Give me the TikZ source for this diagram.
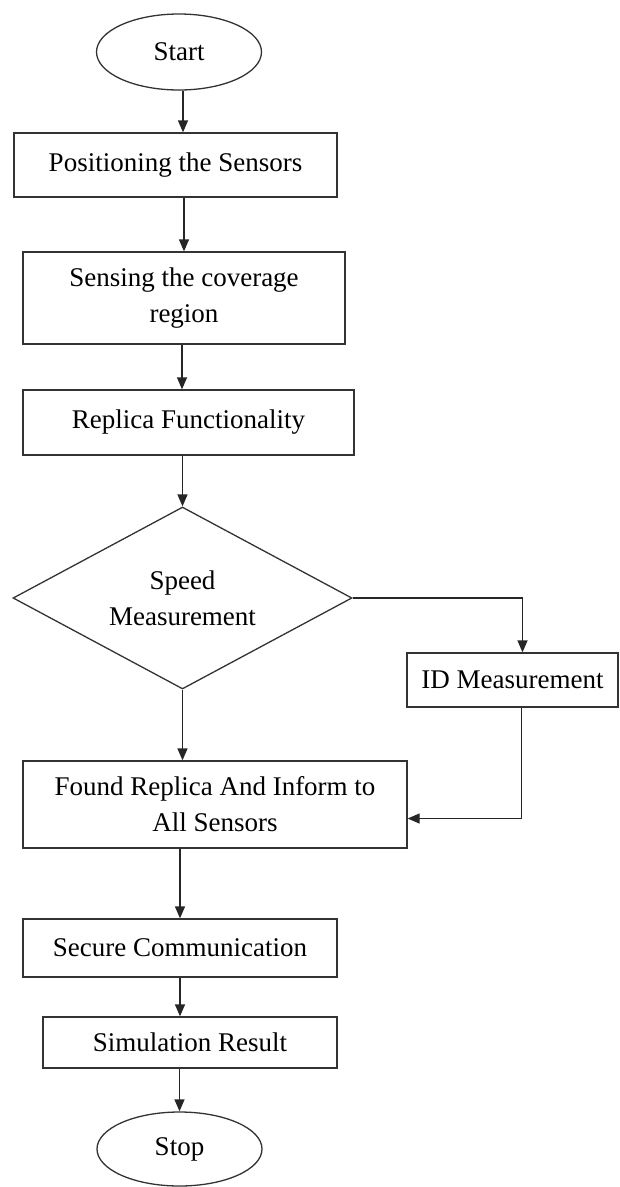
\documentclass[tikz,border=0pt]{standalone}
\usepackage{fontspec}
\setmainfont{Liberation Serif}
\usepackage{tikz}
\usetikzlibrary{arrows.meta,positioning,calc,shapes.geometric}

\begin{document}
\begin{tikzpicture}[x=1pt, y=-1pt, font=\fontsize{27}{36}\selectfont,
  line width=1.3pt,
  box/.style={draw=black!80, rectangle, inner sep=0pt, align=center},
  term/.style={draw=black!80, ellipse, inner sep=0pt, minimum width=165, minimum height=76},
  decide/.style={draw=black!80, diamond, shape aspect=1.86, inner sep=0pt, align=center, minimum width=339, minimum height=182},
  flow/.style={draw=black!85, -{Triangle[length=12pt,width=10pt]}}]
\useasboundingbox (0,0) rectangle (620,1187);
% terminals and steps
\node[term] (start) at (179,52) {Start};
\node[box, minimum width=323, minimum height=64] (pos) at (175.5,165) {Positioning the Sensors};
\node[box, minimum width=322, minimum height=92] (sense) at (184,298) {Sensing the coverage\\ region};
\node[box, minimum width=331, minimum height=65] (replica) at (188.5,422.5) {Replica Functionality};
\node[decide] (speed) at (182.5,598) {Speed\\ Measurement};
\node[box, minimum width=211, minimum height=54] (idm) at (512.5,680) {ID Measurement};
\node[box, minimum width=384, minimum height=87] (found) at (215,804.5) {Found Replica And Inform to\\ All Sensors};
\node[box, minimum width=314, minimum height=58] (secure) at (180,948) {Secure Communication};
\node[box, minimum width=294, minimum height=51] (simul) at (190,1042.5) {Simulation Result};
\node[term, minimum height=74] (stop) at (179.5,1149) {Stop};
% connectors
\draw[flow] ([xshift=4]start.south) -- ([xshift=4]start.south |- pos.north);
\draw[flow] (pos.south -| sense.north) -- (sense.north);
\draw[flow] ([xshift=-2]sense.south) -- ([xshift=-2]sense.south |- replica.north);
\draw[flow] (replica.south -| speed.north) -- (speed.north);
\draw[flow] (speed.south) -- (speed.south |- found.north);
\draw[flow] (speed.east) -| ([xshift=10]idm.north);
\draw[flow] ([xshift=9]idm.south) |- ([yshift=-14]found.east);
\draw[flow] (found.south -| secure.north) -- (secure.north);
\draw[flow] (secure.south) -- (secure.south |- simul.north);
\draw[flow] (simul.south -| stop.north) -- (stop.north);
\end{tikzpicture}
\end{document}
